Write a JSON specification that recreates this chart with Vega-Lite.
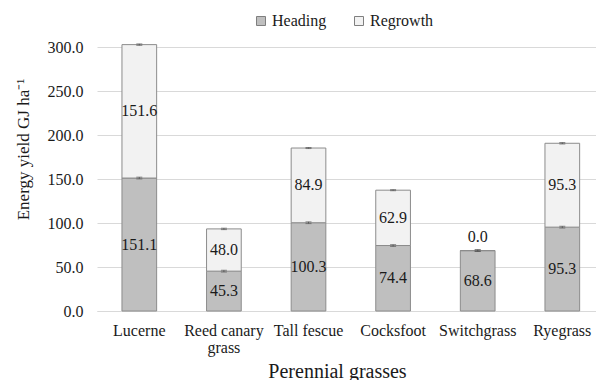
{
  "$schema": "https://vega.github.io/schema/vega-lite/v6.json",
  "autosize": "none",
  "width": 499,
  "height": 264,
  "padding": {"left": 97, "top": 47, "right": 0, "bottom": 69},
  "background": "white",
  "config": {
    "font": "'Liberation Serif', 'Times New Roman', serif",
    "view": {"stroke": null},
    "text": {"font": "'Liberation Serif', 'Times New Roman', serif"},
    "axis": {"labelFont": "'Liberation Serif', 'Times New Roman', serif", "titleFont": "'Liberation Serif', 'Times New Roman', serif", "labelColor": "#1a1a1a", "titleColor": "#1a1a1a", "titleFontWeight": "normal"},
    "legend": {"labelFont": "'Liberation Serif', 'Times New Roman', serif"}
  },
  "data": {
    "values": [
      {"Grass": "Lucerne", "Series": "Heading", "Value": 151.1, "Err": 1.0},
      {"Grass": "Lucerne", "Series": "Regrowth", "Value": 151.6, "Err": 0.8},
      {"Grass": "Reed canary grass", "Series": "Heading", "Value": 45.3, "Err": 1.0},
      {"Grass": "Reed canary grass", "Series": "Regrowth", "Value": 48.0, "Err": 0.8},
      {"Grass": "Tall fescue", "Series": "Heading", "Value": 100.3, "Err": 1.0},
      {"Grass": "Tall fescue", "Series": "Regrowth", "Value": 84.9, "Err": 0.6},
      {"Grass": "Cocksfoot", "Series": "Heading", "Value": 74.4, "Err": 1.0},
      {"Grass": "Cocksfoot", "Series": "Regrowth", "Value": 62.9, "Err": 0.6},
      {"Grass": "Switchgrass", "Series": "Heading", "Value": 68.6, "Err": 1.0},
      {"Grass": "Switchgrass", "Series": "Regrowth", "Value": 0.0, "Err": 0.8},
      {"Grass": "Ryegrass", "Series": "Heading", "Value": 95.3, "Err": 1.0},
      {"Grass": "Ryegrass", "Series": "Regrowth", "Value": 95.3, "Err": 0.8}
    ]
  },
  "transform": [
    {"stack": "Value", "groupby": ["Grass"], "sort": [{"field": "Series", "order": "ascending"}], "as": ["y0", "y1"]}
  ],
  "encoding": {
    "x": {
      "field": "Grass", "type": "nominal", "sort": null,
      "scale": {"paddingInner": 0.59, "paddingOuter": 0.295, "range": [0, 507.6]},
      "axis": {
        "title": "Perennial grasses", "titleFontSize": 20, "titleBaseline": "alphabetic", "titleX": 240, "titleY": 66,
        "labelFont": "'Liberation Serif', 'Times New Roman', serif",
        "titleFont": "'Liberation Serif', 'Times New Roman', serif",
        "labelAngle": 0, "labelFontSize": 16, "labelPadding": 11, "ticks": false,
        "domainColor": "#d9d9d9", "grid": false,
        "labelExpr": "datum.label == 'Reed canary grass' ? ['Reed canary', 'grass'] : datum.label",
        "labelLineHeight": 17
      }
    }
  },
  "layer": [
    {
      "mark": {"type": "bar", "strokeWidth": 1},
      "encoding": {
        "y": {
          "field": "y1", "type": "quantitative", "title": "Energy yield GJ ha⁻¹",
          "scale": {"domain": [0, 300], "nice": false},
          "axis": {
            "titleFontSize": 17, "titleX": -65, "titleY": 102,
            "labelFont": "'Liberation Serif', 'Times New Roman', serif",
            "titleFont": "'Liberation Serif', 'Times New Roman', serif",
            "labelFontSize": 16, "labelPadding": 14, "ticks": false, "domain": false,
            "format": ".1f", "values": [0, 50, 100, 150, 200, 250, 300],
            "gridColor": "#d9d9d9", "gridWidth": 1
          }
        },
        "y2": {"field": "y0"},
        "fill": {
          "field": "Series", "type": "nominal",
          "scale": {"domain": ["Heading", "Regrowth"], "range": ["#bfbfbf", "#f2f2f2"]},
          "legend": {
            "title": null, "orient": "none", "direction": "horizontal",
            "legendX": 156, "legendY": -34,
            "labelFont": "'Liberation Serif', 'Times New Roman', serif",
            "symbolType": "square", "symbolSize": 81, "symbolStrokeColor": "#7f7f7f", "symbolStrokeWidth": 1,
            "labelFontSize": 16, "labelColor": "#1a1a1a", "columnPadding": 24, "labelOffset": 3
          }
        },
        "stroke": {"value": "#8c8c8c"}
      }
    },
    {
      "mark": {"type": "errorbar", "ticks": {"size": 6}, "color": "#595959"},
      "encoding": {
        "y": {"field": "y1", "type": "quantitative", "title": "Energy yield GJ ha⁻¹"},
        "yError": {"field": "Err"}
      }
    },
    {
      "transform": [
        {"filter": "datum.Value != 0"},
        {"fold": ["y0", "y1"], "as": ["k", "pos"]}
      ],
      "mark": {"type": "text", "fontSize": 16, "color": "#1a1a1a", "baseline": "middle", "font": "'Liberation Serif', 'Times New Roman', serif"},
      "encoding": {
        "y": {"field": "pos", "type": "quantitative", "aggregate": "mean", "title": "Energy yield GJ ha⁻¹"},
        "detail": {"field": "Series"},
        "text": {"field": "Value", "type": "quantitative", "format": ".1f"}
      }
    },
    {
      "transform": [{"filter": "datum.Value == 0"}],
      "mark": {"type": "text", "fontSize": 16, "color": "#1a1a1a", "baseline": "alphabetic", "dy": -9, "font": "'Liberation Serif', 'Times New Roman', serif"},
      "encoding": {
        "y": {"field": "y1", "type": "quantitative", "title": "Energy yield GJ ha⁻¹"},
        "text": {"field": "Value", "type": "quantitative", "format": ".1f"}
      }
    }
  ]
}
